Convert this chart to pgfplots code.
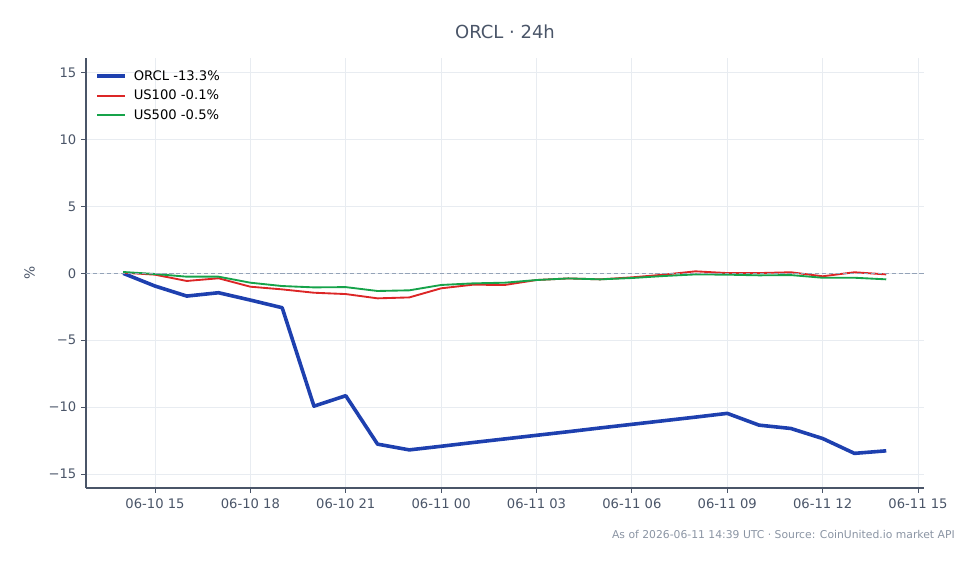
\documentclass[border=0pt]{standalone}
\usepackage{fontspec}
\setmainfont{DejaVu Sans}
\usepackage{pgfplots}
\pgfplotsset{compat=1.18}
\definecolor{orclblue}{HTML}{1E40AF}
\definecolor{usred}{HTML}{DC2626}
\definecolor{usgreen}{HTML}{16A34A}
\definecolor{txt}{HTML}{4A5568}
\definecolor{gridc}{HTML}{E8ECF1}
\definecolor{zeroc}{HTML}{94A3B8}
\definecolor{foot}{HTML}{8A94A3}
\begin{document}
\begin{tikzpicture}[x=1bp,y=1bp]
\useasboundingbox (0,0) rectangle (704.88,406.08);
\begin{axis}[
  at={(61.92bp,54.72bp)}, anchor=south west,
  scale only axis, width=603.4bp, height=309.6bp,
  xmin=12.83, xmax=39.19, ymin=-16.05, ymax=16.1,
  axis x line*=bottom, axis y line*=left,
  axis line style={draw=txt, line width=0.8pt},
  x axis line style={-}, y axis line style={-},
  xtick={15,18,21,24,27,30,33,36,39},
  xticklabels={06-10 15,06-10 18,06-10 21,06-11 00,06-11 03,06-11 06,06-11 09,06-11 12,06-11 15},
  ytick={-15,-10,-5,0,5,10,15},
  yticklabels={−15,−10,−5,0,5,10,15},
  tick align=outside, major tick length=3.5bp,
  tick style={draw=txt, line width=0.6pt},
  ticklabel style={font=\fontsize{9.5}{11}\selectfont, text=txt},
  xticklabel style={yshift=-1bp},
  grid=major, major grid style={draw=gridc, line width=0.6pt},
  ylabel={\%}, ylabel style={font=\fontsize{10}{12}\selectfont, text=txt, yshift=3bp},
  legend style={draw=none, fill=none, at={(0.006,0.985)}, anchor=north west,
    font=\fontsize{9.5}{11}\selectfont, row sep=1.6bp,
    /tikz/every odd column/.append style={column sep=3bp}},
  legend cell align=left,
  legend image code/.code={\draw[#1] (0bp,0bp) -- (20bp,0bp);},
]
\addplot[orclblue, line width=2.6pt, line join=round] coordinates {
(14,0.0) (15,-0.95) (16,-1.70) (17,-1.45) (18,-2.0) (19,-2.57) (20,-9.93) (21,-9.15)
(22,-12.77) (23,-13.2) (24,-12.93) (25,-12.65) (26,-12.38) (27,-12.11) (28,-11.84)
(29,-11.56) (30,-11.29) (31,-11.02) (32,-10.75) (33,-10.47) (34,-11.35) (35,-11.6)
(36,-12.35) (37,-13.46) (38,-13.27)};
\addlegendentry{ORCL -13.3\%}
\addplot[usred, line width=1.35pt, line join=round] coordinates {
(14,0.05) (15,-0.1) (16,-0.57) (17,-0.37) (18,-1.0) (19,-1.2) (20,-1.45) (21,-1.55)
(22,-1.87) (23,-1.8) (24,-1.12) (25,-0.85) (26,-0.87) (27,-0.5) (28,-0.38) (29,-0.45)
(30,-0.3) (31,-0.1) (32,0.15) (33,0.02) (34,0.02) (35,0.08) (36,-0.22) (37,0.08) (38,-0.08)};
\addlegendentry{US100 -0.1\%}
\addplot[usgreen, line width=1.35pt, line join=round] coordinates {
(14,0.1) (15,-0.05) (16,-0.25) (17,-0.25) (18,-0.7) (19,-0.95) (20,-1.05) (21,-1.03)
(22,-1.32) (23,-1.27) (24,-0.87) (25,-0.75) (26,-0.7) (27,-0.5) (28,-0.38) (29,-0.45)
(30,-0.35) (31,-0.2) (32,-0.08) (33,-0.1) (34,-0.15) (35,-0.13) (36,-0.33) (37,-0.33) (38,-0.45)};
\addlegendentry{US500 -0.5\%}
\addplot[zeroc, line width=0.7pt, dash pattern=on 3bp off 2bp, forget plot] coordinates {(12.83,0) (39.19,0)};
\end{axis}
\node[text=txt, font=\fontsize{13}{15}\selectfont] at (363.6,383.0) {ORCL · 24h};
\node[text=foot, font=\fontsize{7.8}{9}\selectfont, anchor=east, inner sep=0pt] at (687.6,21.6) {As of 2026-06-11 14:39 UTC · Source: CoinUnited.io market API};
\end{tikzpicture}
\end{document}
